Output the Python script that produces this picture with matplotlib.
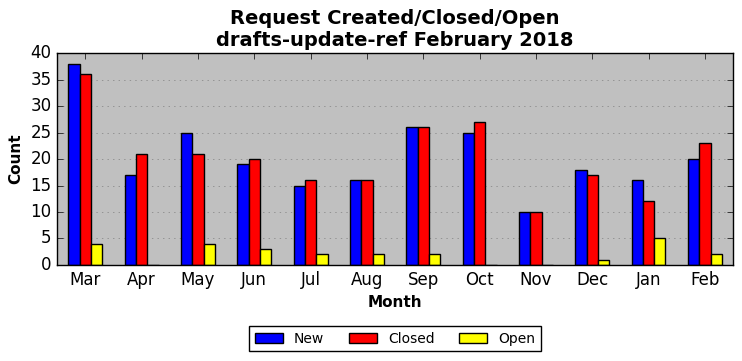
import numpy as np
import matplotlib.pyplot as plt

plt.style.use('classic')

months = ["Mar", "Apr", "May", "Jun", "Jul", "Aug", "Sep", "Oct", "Nov", "Dec", "Jan", "Feb"]
new = [38, 17, 25, 19, 15, 16, 26, 25, 10, 18, 16, 20]
closed = [36, 21, 21, 20, 16, 16, 26, 27, 10, 17, 12, 23]
opened = [4, 0, 4, 3, 2, 2, 2, 0, 0, 1, 5, 2]

x = np.arange(len(months))
w = 0.2

fig, ax = plt.subplots(figsize=(7.42, 3.61), dpi=100)
fig.patch.set_facecolor('white')
fig.subplots_adjust(left=0.077, right=0.988, top=0.853, bottom=0.266)
ax.set_facecolor('#c0c0c0')

ax.bar(x - w, new, w, color='blue', edgecolor='black', label='New')
ax.bar(x, closed, w, color='red', edgecolor='black', label='Closed')
ax.bar(x + w, opened, w, color='yellow', edgecolor='black', label='Open')

ax.set_xlim(-0.5, len(months) - 0.5)
ax.set_ylim(0, 40)
ax.set_xticks(x)
ax.set_xticklabels(months)
ax.yaxis.grid(True, linestyle=':', color='gray')
ax.set_axisbelow(True)

ax.set_xlabel("Month", fontweight='bold', fontsize=11)
ax.set_ylabel("Count", fontweight='bold', fontsize=11)
ax.set_title("Request Created/Closed/Open\ndrafts-update-ref February 2018",
             fontweight='bold', fontsize=14)

ax.legend(loc='upper center', bbox_to_anchor=(0.5, -0.255), ncol=3,
          fontsize=10, fancybox=False, columnspacing=1.8)

plt.savefig("out.png")
